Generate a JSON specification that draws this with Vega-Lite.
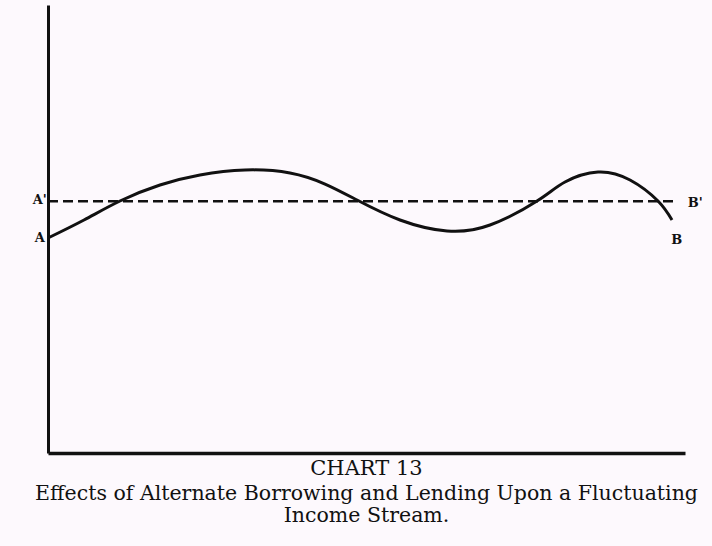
{
  "$schema": "https://vega.github.io/schema/vega-lite/v6.json",
  "width": 637,
  "height": 448,
  "autosize": {"type": "none"},
  "padding": {"left": 48, "top": 5, "right": 27, "bottom": 93},
  "background": "#fdf9fd",
  "config": {"view": {"stroke": null}},
  "title": {
    "text": "CHART 13",
    "subtitle": ["Effects of Alternate Borrowing and Lending Upon a Fluctuating", "Income Stream."],
    "orient": "bottom",
    "anchor": "middle",
    "offset": 5,
    "font": "DejaVu Serif",
    "fontSize": 21,
    "fontWeight": "normal",
    "color": "#111",
    "subtitleFont": "DejaVu Serif",
    "subtitleFontSize": 20.5,
    "subtitleColor": "#111",
    "subtitleLineHeight": 22,
    "subtitlePadding": 5
  },
  "datasets": {
    "curve": [
      {"t": 0, "v": 47.99},
      {"t": 5.65, "v": 52.01},
      {"t": 11.3, "v": 56.25},
      {"t": 17.58, "v": 59.82},
      {"t": 23.86, "v": 62.05},
      {"t": 30.93, "v": 63.17},
      {"t": 37.99, "v": 62.5},
      {"t": 43.49, "v": 60.04},
      {"t": 48.51, "v": 56.47},
      {"t": 55.26, "v": 52.01},
      {"t": 62.64, "v": 49.55},
      {"t": 69.39, "v": 50.89},
      {"t": 76.77, "v": 56.25},
      {"t": 81.16, "v": 60.49},
      {"t": 86.34, "v": 62.72},
      {"t": 91.37, "v": 60.94},
      {"t": 95.76, "v": 56.25},
      {"t": 97.96, "v": 52.01}
    ],
    "level": [
      {"t": 0, "v": 56.2},
      {"t": 98.5, "v": 56.2}
    ],
    "labels": [
      {"t": -1.3, "v": 56.5, "label": "A'"},
      {"t": -1.3, "v": 48.0, "label": "A"},
      {"t": 101.6, "v": 55.8, "label": "B'"},
      {"t": 98.7, "v": 47.5, "label": "B"}
    ]
  },
  "layer": [
    {
      "data": {"name": "level"},
      "mark": {"type": "line", "color": "#111", "strokeWidth": 2.5, "strokeDash": [10, 5]},
      "encoding": {
        "x": {"field": "t", "type": "quantitative", "scale": {"domain": [0, 100]},
              "axis": {"title": null, "labels": false, "ticks": false, "grid": false, "domainColor": "#111", "domainWidth": 3.5}},
        "y": {"field": "v", "type": "quantitative", "scale": {"domain": [0, 100]},
              "axis": {"title": null, "labels": false, "ticks": false, "grid": false, "domainColor": "#111", "domainWidth": 3}}
      }
    },
    {
      "data": {"name": "curve"},
      "mark": {"type": "line", "color": "#111", "strokeWidth": 3, "interpolate": "natural"},
      "encoding": {
        "x": {"field": "t", "type": "quantitative"},
        "y": {"field": "v", "type": "quantitative"}
      }
    },
    {
      "data": {"name": "labels"},
      "mark": {"type": "text", "font": "DejaVu Serif", "fontWeight": "bold", "fontSize": 13, "color": "#111", "align": "center", "baseline": "middle"},
      "encoding": {
        "x": {"field": "t", "type": "quantitative"},
        "y": {"field": "v", "type": "quantitative"},
        "text": {"field": "label"}
      }
    }
  ]
}
